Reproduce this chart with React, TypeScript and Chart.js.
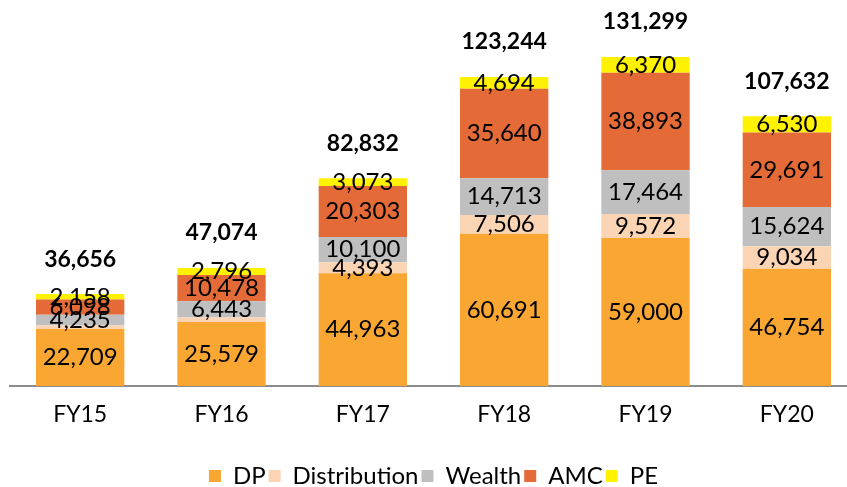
import React, { useEffect, useRef } from "react";
import { Chart, registerables } from "chart.js";

Chart.register(...registerables);

const categories = ["FY15", "FY16", "FY17", "FY18", "FY19", "FY20"];
const dp = [22709, 25579, 44963, 60691, 59000, 46754];
const distribution = [1456, 1778, 4393, 7506, 9572, 9034];
const wealth = [4235, 6443, 10100, 14713, 17464, 15624];
const amc = [6098, 10478, 20303, 35640, 38893, 29691];
const pe = [2158, 2796, 3073, 4694, 6370, 6530];
const totals = [36656, 47074, 82832, 123244, 131299, 107632];
const seriesNames = ["DP", "Distribution", "Wealth", "AMC", "PE"];
const seriesColors = ["#F9A633", "#FBD4B4", "#BFBFBF", "#E46B38", "#FFF200"];
const hideBelow = 2000;

const FONT = "Lato, 'Open Sans', sans-serif";

const fmt = (v: number) => v.toLocaleString("en-US");

const labelsPlugin = {
  id: "segLabels",
  afterDatasetsDraw(chart: any) {
    const ctx = chart.ctx;
    ctx.save();
    ctx.textAlign = "center";
    ctx.textBaseline = "middle";
    ctx.fillStyle = "#000";
    ctx.font = `24px ${FONT}`;
    chart.data.datasets.forEach((ds: any, di: number) => {
      const meta = chart.getDatasetMeta(di);
      meta.data.forEach((el: any, i: number) => {
        const v = ds.data[i];
        if (v < hideBelow) return;
        const y = (el.y + el.base) / 2;
        ctx.fillText(fmt(v), el.x, y);
      });
    });
    const last = chart.getDatasetMeta(chart.data.datasets.length - 1);
    ctx.font = `bold 23px ${FONT}`;
    last.data.forEach((el: any, i: number) => {
      ctx.fillText(fmt(totals[i]), el.x, el.y - 35);
    });
    ctx.restore();
  },
};

const legendShift = {
  id: "legendShift",
  afterLayout(chart: any) {
    if (chart.legend) {
      chart.legend.top += 14;
      chart.legend.bottom += 14;
    }
  },
};

export default function App() {
  const ref = useRef<HTMLCanvasElement>(null);
  useEffect(() => {
    const series = [dp, distribution, wealth, amc, pe];
    const chart = new Chart(ref.current!, {
      type: "bar",
      data: {
        labels: categories,
        datasets: series.map((d, i) => ({
          label: seriesNames[i],
          data: d,
          backgroundColor: seriesColors[i],
          borderWidth: 0,
          categoryPercentage: 1,
          barPercentage: 0.625,
        })),
      },
      options: {
        animation: false,
        responsive: true,
        maintainAspectRatio: false,
        layout: { padding: { left: 9.5, right: 0.5, top: 10, bottom: 3 } },
        plugins: {
          tooltip: { enabled: false },
          legend: {
            position: "bottom",
            labels: {
              boxWidth: 12,
              boxHeight: 12,
              padding: 3,
              color: "#000",
              font: { family: FONT, size: 24 },
            },
          },
        },
        scales: {
          x: {
            stacked: true,
            grid: { display: false, drawTicks: false },
            border: { display: true, color: "#8C8C8C", width: 2 },
            ticks: { color: "#000", padding: 15, font: { family: FONT, size: 23 } },
            afterFit: (scale: any) => {
              scale.height = 61;
            },
          },
          y: {
            stacked: true,
            display: false,
            min: 0,
            max: 150000,
          },
        },
      },
      plugins: [labelsPlugin, legendShift],
    });
    return () => chart.destroy();
  }, []);
  return (
    <div style={{ position: "fixed", left: 0, top: 0, width: "100vw", height: "100vh", overflow: "hidden", background: "#fff" }}>
      <div style={{ position: "relative", width: 858, height: 487 }}>
        <canvas ref={ref} />
      </div>
    </div>
  );
}
